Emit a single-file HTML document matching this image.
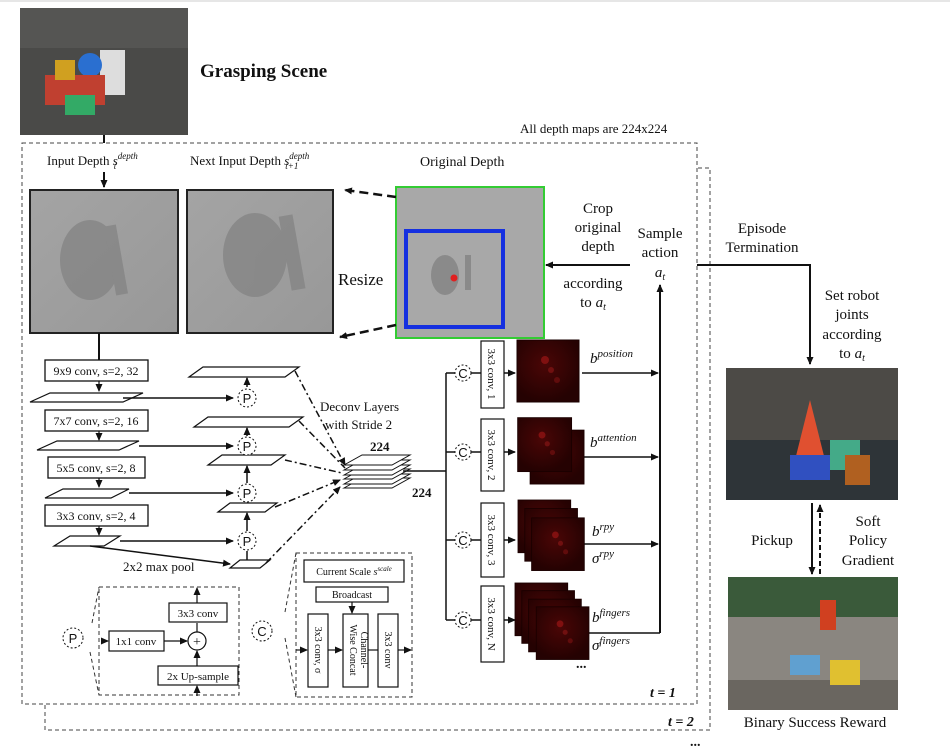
<!DOCTYPE html>
<html><head><meta charset="utf-8"><style>
body{margin:0;background:#fff}
svg text{font-family:"Liberation Serif",serif;fill:#111}
</style></head><body>
<svg width="950" height="750" viewBox="0 0 950 750" xmlns="http://www.w3.org/2000/svg">
<defs>
<marker id="a" markerWidth="8" markerHeight="8" refX="7" refY="4" orient="auto" markerUnits="userSpaceOnUse"><path d="M0,0.5 L8,4 L0,7.5z" fill="#111"/></marker>
<linearGradient id="dep" x1="0" y1="0" x2="1" y2="1"><stop offset="0" stop-color="#a4a4a4"/><stop offset="1" stop-color="#989898"/></linearGradient>
<radialGradient id="hm" cx="0.45" cy="0.4" r="0.6"><stop offset="0" stop-color="#4a0606"/><stop offset="1" stop-color="#250202"/></radialGradient>
<g id="heat"><rect width="62" height="62" fill="url(#hm)" stroke="#1a0000"/><circle cx="28" cy="20" r="4" fill="#801010"/><circle cx="34" cy="30" r="3" fill="#701010"/><circle cx="40" cy="40" r="3" fill="#600c0c"/></g>
</defs>
<line x1="0" y1="1" x2="950" y2="1" stroke="#ccc"/>
<rect x="20" y="8" width="168" height="127" fill="#4a4a48"/>
<rect x="20" y="8" width="168" height="40" fill="#555553"/>
<rect x="100" y="50" width="25" height="45" fill="#ddd"/>
<circle cx="90" cy="65" r="12" fill="#2a6fd0"/>
<rect x="45" y="75" width="60" height="30" fill="#c04030"/>
<rect x="55" y="60" width="20" height="20" fill="#d0a020"/>
<rect x="65" y="95" width="30" height="20" fill="#3a6"/>
<text x="200" y="77" font-size="19" font-weight="bold">Grasping Scene</text>
<text x="520" y="133" font-size="13">All depth maps are 224x224</text>
<path d="M45,705 V730 H710 V168 H697" fill="none" stroke="#444" stroke-dasharray="4,3"/>
<rect x="22" y="143" width="675" height="561" fill="none" stroke="#444" stroke-dasharray="4,3"/>
<text x="650" y="697" font-size="14" font-weight="bold" font-style="italic">t = 1</text>
<text x="668" y="726" font-size="14" font-weight="bold" font-style="italic">t = 2</text>
<text x="690" y="746" font-size="14" font-weight="bold">...</text>
<line x1="104" y1="135" x2="104" y2="143" stroke="#111" stroke-width="2"/>
<line x1="104" y1="172" x2="104" y2="187" stroke="#111" stroke-width="2" marker-end="url(#a)"/>
<text x="47" y="165" font-size="13">Input Depth <tspan font-style="italic">s</tspan><tspan font-size="9" dy="-6" font-style="italic">depth</tspan><tspan font-size="9" dx="-24" dy="10" font-style="italic">t</tspan></text>
<text x="190" y="165" font-size="13">Next Input Depth <tspan font-style="italic">s</tspan><tspan font-size="9" dy="-6" font-style="italic">depth</tspan><tspan font-size="9" dx="-24" dy="10" font-style="italic">t+1</tspan></text>
<text x="420" y="166" font-size="14">Original Depth</text>
<rect x="30" y="190" width="148" height="143" fill="url(#dep)" stroke="#222" stroke-width="2"/>
<g fill="#858585" opacity=".8"><ellipse cx="90" cy="260" rx="30" ry="40"/><rect x="110" y="225" width="12" height="70" transform="rotate(-10 116 260)"/></g>
<rect x="187" y="190" width="146" height="143" fill="url(#dep)" stroke="#222" stroke-width="2"/>
<g fill="#858585" opacity=".8"><ellipse cx="255" cy="255" rx="32" ry="42"/><rect x="285" y="215" width="14" height="75" transform="rotate(-10 292 252)"/></g>
<text x="338" y="285" font-size="17">Resize</text>
<rect x="396" y="187" width="148" height="151" fill="#a8a8a8" stroke="#3c3" stroke-width="2"/>
<rect x="406" y="231" width="97" height="96" fill="none" stroke="#1530e0" stroke-width="4"/>
<g fill="#8a8a8a"><ellipse cx="445" cy="275" rx="14" ry="20"/><rect x="465" y="255" width="6" height="35"/></g>
<circle cx="454" cy="278" r="3.5" fill="#e02020"/>
<line x1="396" y1="197" x2="345" y2="190" stroke="#111" stroke-width="2.5" stroke-dasharray="9,5" marker-end="url(#a)"/>
<line x1="396" y1="325" x2="340" y2="337" stroke="#111" stroke-width="2.5" stroke-dasharray="9,5" marker-end="url(#a)"/>
<text x="598" y="213" font-size="15" text-anchor="middle">Crop</text>
<text x="598" y="232" font-size="15" text-anchor="middle">original</text>
<text x="598" y="251" font-size="15" text-anchor="middle">depth</text>
<text x="593" y="288" font-size="15" text-anchor="middle">according</text>
<text x="593" y="307" font-size="15" text-anchor="middle">to <tspan font-style="italic">a</tspan><tspan font-size="10" dy="3" font-style="italic">t</tspan></text>
<line x1="630" y1="265" x2="546" y2="265" stroke="#111" stroke-width="2" marker-end="url(#a)"/>
<text x="660" y="238" font-size="15" text-anchor="middle">Sample</text>
<text x="660" y="257" font-size="15" text-anchor="middle">action</text>
<text x="660" y="277" font-size="15" text-anchor="middle" font-style="italic">a<tspan font-size="10" dy="3">t</tspan></text>
<line x1="660" y1="633" x2="660" y2="285" stroke="#111" stroke-width="2" marker-end="url(#a)"/>
<polyline points="697,265 810,265 810,364" fill="none" stroke="#111" stroke-width="2" marker-end="url(#a)"/>
<text x="762" y="233" font-size="15" text-anchor="middle">Episode</text>
<text x="762" y="252" font-size="15" text-anchor="middle">Termination</text>
<text x="852" y="300" font-size="15" text-anchor="middle">Set robot</text>
<text x="852" y="319" font-size="15" text-anchor="middle">joints</text>
<text x="852" y="339" font-size="15" text-anchor="middle">according</text>
<text x="852" y="358" font-size="15" text-anchor="middle">to <tspan font-style="italic">a</tspan><tspan font-size="10" dy="3" font-style="italic">t</tspan></text>
<rect x="726" y="368" width="172" height="132" fill="#4c4a46"/>
<rect x="726" y="440" width="172" height="60" fill="#2e3438"/>
<polygon points="810,400 830,480 790,480" fill="#e05030"/>
<rect x="830" y="440" width="30" height="30" fill="#4a8"/>
<rect x="790" y="455" width="40" height="25" fill="#3050c0"/>
<rect x="845" y="455" width="25" height="30" fill="#b06020"/>
<line x1="812" y1="503" x2="812" y2="574" stroke="#111" stroke-width="2" marker-end="url(#a)"/>
<line x1="820" y1="574" x2="820" y2="505" stroke="#111" stroke-width="2" stroke-dasharray="5,3" marker-end="url(#a)"/>
<text x="772" y="545" font-size="15" text-anchor="middle">Pickup</text>
<text x="868" y="526" font-size="15" text-anchor="middle">Soft</text>
<text x="868" y="545" font-size="15" text-anchor="middle">Policy</text>
<text x="868" y="565" font-size="15" text-anchor="middle">Gradient</text>
<rect x="728" y="577" width="170" height="133" fill="#8a8680"/>
<rect x="728" y="577" width="170" height="40" fill="#3a5a3a"/>
<rect x="728" y="680" width="170" height="30" fill="#6a6660"/>
<rect x="820" y="600" width="16" height="30" fill="#d04020"/>
<rect x="790" y="655" width="30" height="20" fill="#60a0d0"/>
<rect x="830" y="660" width="30" height="25" fill="#e0c030"/>
<text x="815" y="727" font-size="15" text-anchor="middle">Binary Success Reward</text>
<g stroke="#111" stroke-width="1.3" fill="#fff" font-size="12">
<rect x="45" y="360" width="103" height="21"/>
<rect x="45" y="410" width="103" height="21"/>
<rect x="48" y="457" width="97" height="21"/>
<rect x="45" y="505" width="103" height="21"/>
</g>
<g font-size="12">
<text x="96" y="375" text-anchor="middle">9x9 conv, s=2, 32</text>
<text x="96" y="425" text-anchor="middle">7x7 conv, s=2, 16</text>
<text x="96" y="472" text-anchor="middle">5x5 conv, s=2, 8</text>
<text x="96" y="520" text-anchor="middle">3x3 conv, s=2, 4</text>
</g>
<g stroke="#111" stroke-width="1.2" fill="#fff">
<line x1="99" y1="333" x2="99" y2="360" stroke-width="2"/>
<line x1="99" y1="381" x2="99" y2="391" marker-end="url(#a)"/>
<line x1="99" y1="431" x2="99" y2="440" marker-end="url(#a)"/>
<line x1="99" y1="478" x2="99" y2="487" marker-end="url(#a)"/>
<line x1="99" y1="526" x2="99" y2="535" marker-end="url(#a)"/>
<polygon points="30,402 50,393 143,393 123,402"/>
<polygon points="37,450 57,441 139,441 119,450"/>
<polygon points="45,498 63,489 129,489 111,498"/>
<polygon points="54,546 70,536 120,536 104,546"/>
<polygon points="189,377 203,367 299,367 285,377"/>
<polygon points="194,427 208,417 303,417 289,427"/>
<polygon points="208,465 222,455 285,455 271,465"/>
<polygon points="218,512 230,503 277,503 265,512"/>
<polygon points="230,568 240,560 270,560 260,568"/>
</g>
<g stroke="#111" stroke-width="1.5" fill="none">
<line x1="123" y1="398" x2="233" y2="398" marker-end="url(#a)"/>
<line x1="139" y1="446" x2="233" y2="446" marker-end="url(#a)"/>
<line x1="129" y1="493" x2="233" y2="493" marker-end="url(#a)"/>
<line x1="120" y1="541" x2="233" y2="541" marker-end="url(#a)"/>
<line x1="90" y1="546" x2="230" y2="564" marker-end="url(#a)"/>
<line x1="247" y1="387" x2="247" y2="378" marker-end="url(#a)"/>
<line x1="247" y1="436" x2="247" y2="428" marker-end="url(#a)"/>
<line x1="247" y1="483" x2="247" y2="466" marker-end="url(#a)"/>
<line x1="247" y1="531" x2="247" y2="513" marker-end="url(#a)"/>
<line x1="247" y1="560" x2="247" y2="551"/>
</g>
<g stroke="#111" stroke-dasharray="2,2" fill="#fff" stroke-width="1">
<circle cx="247" cy="398" r="9"/><circle cx="247" cy="446" r="9"/><circle cx="247" cy="493" r="9"/><circle cx="247" cy="541" r="9"/>
</g>
<g font-size="13"><text x="247" y="403" text-anchor="middle" style="font-family:'Liberation Sans',sans-serif">P</text><text x="247" y="451" text-anchor="middle" style="font-family:'Liberation Sans',sans-serif">P</text><text x="247" y="498" text-anchor="middle" style="font-family:'Liberation Sans',sans-serif">P</text><text x="247" y="546" text-anchor="middle" style="font-family:'Liberation Sans',sans-serif">P</text></g>
<text x="123" y="571" font-size="13">2x2 max pool</text>
<text x="320" y="411" font-size="13">Deconv Layers</text>
<text x="325" y="429" font-size="13">with Stride 2</text>
<g stroke="#111" stroke-width="1.5" stroke-dasharray="7,3,2,3" fill="none">
<line x1="295" y1="371" x2="345" y2="465" marker-end="url(#a)"/>
<line x1="299" y1="421" x2="345" y2="468"/>
<line x1="285" y1="460" x2="342" y2="473"/>
<line x1="275" y1="507" x2="340" y2="480" marker-end="url(#a)"/>
<line x1="266" y1="563" x2="340" y2="487" marker-end="url(#a)"/>
</g>
<g stroke="#111" stroke-width="1" fill="#fff">
<polygon points="344,488 362,478 410,478 392,488"/>
<polygon points="344,484 362,474 410,474 392,484"/>
<polygon points="344,479 362,469 410,469 392,479"/>
<polygon points="344,475 362,465 410,465 392,475"/>
<polygon points="344,470 362,460 410,460 392,470"/>
<polygon points="344,465 362,455 410,455 392,465"/>
</g>
<text x="370" y="451" font-size="13" font-weight="bold">224</text>
<text x="412" y="497" font-size="13" font-weight="bold">224</text>
<g stroke="#111" stroke-width="1.5" fill="none">
<line x1="403" y1="471" x2="446" y2="471"/>
<line x1="446" y1="373" x2="446" y2="620"/>
<line x1="446" y1="373" x2="455" y2="373"/><line x1="446" y1="452" x2="455" y2="452"/><line x1="446" y1="540" x2="455" y2="540"/><line x1="446" y1="620" x2="455" y2="620"/>
<line x1="471" y1="373" x2="481" y2="373"/><line x1="471" y1="452" x2="481" y2="452"/><line x1="471" y1="540" x2="481" y2="540"/><line x1="471" y1="620" x2="481" y2="620"/>
<line x1="504" y1="373" x2="515" y2="373" marker-end="url(#a)"/>
<line x1="504" y1="452" x2="515" y2="452" marker-end="url(#a)"/>
<line x1="504" y1="540" x2="515" y2="540" marker-end="url(#a)"/>
<line x1="504" y1="620" x2="515" y2="620" marker-end="url(#a)"/>
<line x1="582" y1="373" x2="658" y2="373" marker-end="url(#a)"/>
<line x1="584" y1="457" x2="658" y2="457" marker-end="url(#a)"/>
<line x1="584" y1="544" x2="658" y2="544" marker-end="url(#a)"/>
<line x1="587" y1="633" x2="660" y2="633"/>
</g>
<g stroke="#111" stroke-dasharray="2,2" fill="#fff" stroke-width="1">
<circle cx="463" cy="373" r="8"/><circle cx="463" cy="452" r="8"/><circle cx="463" cy="540" r="8"/><circle cx="463" cy="620" r="8"/>
</g>
<g font-size="13" text-anchor="middle"><text x="463" y="378" style="font-family:'Liberation Sans',sans-serif">C</text><text x="463" y="457" style="font-family:'Liberation Sans',sans-serif">C</text><text x="463" y="545" style="font-family:'Liberation Sans',sans-serif">C</text><text x="463" y="625" style="font-family:'Liberation Sans',sans-serif">C</text></g>
<g stroke="#111" fill="#fff" stroke-width="1.2">
<rect x="481" y="341" width="23" height="67"/><rect x="481" y="419" width="23" height="72"/><rect x="481" y="503" width="23" height="74"/><rect x="481" y="586" width="23" height="76"/>
</g>
<g font-size="11" text-anchor="middle">
<text transform="translate(488,374) rotate(90)">3x3 conv, 1</text>
<text transform="translate(488,455) rotate(90)">3x3 conv, 2</text>
<text transform="translate(488,540) rotate(90)">3x3 conv, 3</text>
<text transform="translate(488,624) rotate(90)">3x3 conv, N</text>
</g>
<use href="#heat" x="517" y="340"/>
<use href="#heat" x="530" y="430" transform="matrix(0.87 0 0 0.87 69 56)"/>
<use href="#heat" x="518" y="418" transform="matrix(0.87 0 0 0.87 67 54)"/>
<g transform="translate(518,500) scale(0.85)"><use href="#heat"/><use href="#heat" x="8" y="10"/><use href="#heat" x="16" y="21"/></g>
<g transform="translate(515,583) scale(0.85)"><use href="#heat"/><use href="#heat" x="8" y="9"/><use href="#heat" x="16" y="19"/><use href="#heat" x="25" y="28"/></g>
<g font-size="15" font-style="italic">
<text x="590" y="363">b<tspan font-size="11" dy="-6">position</tspan></text>
<text x="590" y="447">b<tspan font-size="11" dy="-6">attention</tspan></text>
<text x="592" y="536">b<tspan font-size="11" dy="-6">rpy</tspan></text>
<text x="592" y="563">σ<tspan font-size="11" dy="-6">rpy</tspan></text>
<text x="592" y="622">b<tspan font-size="11" dy="-6">fingers</tspan></text>
<text x="592" y="650">σ<tspan font-size="11" dy="-6">fingers</tspan></text>
</g>
<text x="576" y="668" font-size="14" font-weight="bold">...</text>
<rect x="99" y="587" width="140" height="108" fill="none" stroke="#333" stroke-dasharray="4,3"/>
<path d="M92,623 L99,587 M90,652 L99,695" stroke="#333" stroke-dasharray="4,3" fill="none"/>
<circle cx="73" cy="638" r="10" fill="#fff" stroke="#111" stroke-dasharray="2,2"/>
<text x="73" y="643" font-size="13" text-anchor="middle" style="font-family:'Liberation Sans',sans-serif">P</text>
<g stroke="#111" fill="#fff" stroke-width="1.2">
<rect x="109" y="631" width="55" height="20"/>
<rect x="169" y="603" width="58" height="19"/>
<rect x="158" y="666" width="80" height="19"/>
<circle cx="197" cy="641" r="9"/>
</g>
<g font-size="11" text-anchor="middle"><text x="136" y="645">1x1 conv</text><text x="198" y="617">3x3 conv</text><text x="198" y="680">2x Up-sample</text></g>
<text x="197" y="646" font-size="14" text-anchor="middle">+</text>
<g stroke="#111" stroke-width="1.2"><line x1="101" y1="641" x2="108" y2="641" marker-end="url(#a)"/><line x1="164" y1="641" x2="187" y2="641" marker-end="url(#a)"/><line x1="197" y1="666" x2="197" y2="651" marker-end="url(#a)"/><line x1="197" y1="632" x2="197" y2="623"/><line x1="197" y1="603" x2="197" y2="588" marker-end="url(#a)"/><line x1="197" y1="696" x2="197" y2="686" marker-end="url(#a)"/></g>
<rect x="296" y="553" width="116" height="144" fill="none" stroke="#333" stroke-dasharray="4,3"/>
<path d="M285,612 L296,553 M285,638 L296,697" stroke="#333" stroke-dasharray="4,3" fill="none"/>
<circle cx="262" cy="631" r="10" fill="#fff" stroke="#111" stroke-dasharray="2,2"/>
<text x="262" y="636" font-size="13" text-anchor="middle" style="font-family:'Liberation Sans',sans-serif">C</text>
<g stroke="#111" fill="#fff" stroke-width="1.2">
<rect x="304" y="560" width="100" height="22"/>
<rect x="316" y="587" width="72" height="15"/>
<rect x="308" y="614" width="20" height="73"/>
<rect x="343" y="614" width="25" height="73"/>
<rect x="378" y="614" width="20" height="73"/>
</g>
<text x="354" y="575" font-size="10" text-anchor="middle">Current Scale <tspan font-style="italic">s</tspan><tspan font-size="7" dy="-4" font-style="italic">scale</tspan></text>
<text x="352" y="598" font-size="10" text-anchor="middle">Broadcast</text>
<g font-size="10" text-anchor="middle">
<text transform="translate(315,650) rotate(90)">3x3 conv, σ</text>
<text transform="translate(361,650) rotate(90)">Channel-</text>
<text transform="translate(350,650) rotate(90)">Wise Concat</text>
<text transform="translate(385,650) rotate(90)">3x3 conv</text>
</g>
<g stroke="#111" stroke-width="1.2"><line x1="296" y1="650" x2="307" y2="650" marker-end="url(#a)"/><line x1="328" y1="650" x2="342" y2="650" marker-end="url(#a)"/><line x1="368" y1="650" x2="378" y2="650"/><line x1="398" y1="650" x2="411" y2="650" marker-end="url(#a)"/><line x1="352" y1="602" x2="352" y2="613" marker-end="url(#a)"/></g>
</svg>
</body></html>
